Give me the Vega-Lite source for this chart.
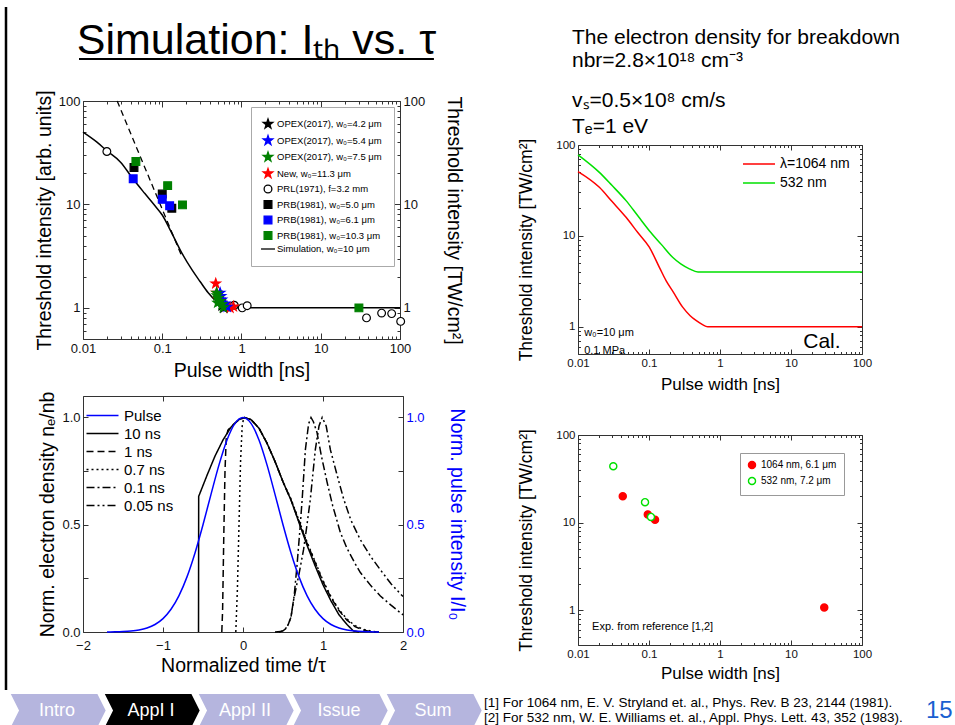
{
  "$schema": "https://vega.github.io/schema/vega-lite/v6.json",
  "padding": {"left": 4, "top": 5, "right": 0, "bottom": 0},
  "background": "white",
  "spacing": 2,
  "resolve": {"scale": {"color": "independent", "fill": "independent", "stroke": "independent", "shape": "independent", "strokeDash": "independent"}, "legend": {"color": "independent", "fill": "independent", "stroke": "independent", "shape": "independent", "strokeDash": "independent"}},
  "config": {
    "font": "Liberation Sans",
    "view": {"stroke": "#333", "strokeWidth": 1},
    "axis": {"grid": false, "domain": false, "tickColor": "#333", "tickWidth": 1, "labelColor": "#111", "titleColor": "#000", "titleFontWeight": "normal", "labelFont": "Liberation Sans", "titleFont": "Liberation Sans", "labelOverlap": false},
    "legend": {"labelFont": "Liberation Sans", "labelColor": "#000"},
    "title": {"fontWeight": "normal", "color": "#000"}
  },
  "vconcat": [
    {
      "spacing": 0,
      "resolve": {"scale": {"color": "independent", "fill": "independent", "stroke": "independent", "shape": "independent", "strokeDash": "independent"}, "legend": {"color": "independent", "fill": "independent", "stroke": "independent", "shape": "independent", "strokeDash": "independent"}},
      "hconcat": [
        {
          "width": 27, "height": 683, "view": {"stroke": null},
          "data": {"values": [{}]},
          "mark": {"type": "rule", "color": "#000", "strokeWidth": 2.5},
          "encoding": {"x": {"datum": 0, "type": "quantitative", "scale": {"domain": [0, 1]}, "axis": null}}
        },
        {
          "spacing": 50,
          "resolve": {"scale": {"color": "independent", "fill": "independent", "stroke": "independent", "shape": "independent", "strokeDash": "independent"}, "legend": {"color": "independent", "fill": "independent", "stroke": "independent", "shape": "independent", "strokeDash": "independent"}},
          "hconcat": [
            {
              "spacing": 22,
              "resolve": {"scale": {"color": "independent", "fill": "independent", "stroke": "independent", "shape": "independent", "strokeDash": "independent"}, "legend": {"color": "independent", "fill": "independent", "stroke": "independent", "shape": "independent", "strokeDash": "independent"}},
              "vconcat": [
                {
                  "width": 317, "height": 60,
                  "view": {"stroke": null},
                  "data": {"values": [{}]},
                  "layer": [
                    {
                      "mark": {"type": "text", "align": "center", "baseline": "alphabetic", "fontSize": 43, "dx": 15, "color": "#000"},
                      "encoding": {
                        "x": {"datum": 0.5, "type": "quantitative", "scale": {"domain": [0, 1]}, "axis": null},
                        "y": {"datum": 0.217, "type": "quantitative", "scale": {"domain": [0, 1]}, "axis": null},
                        "text": {"value": "Simulation: Iₜₕ vs. τ"}
                      }
                    },
                    {
                      "mark": {"type": "rule", "color": "#000", "strokeWidth": 2},
                      "encoding": {
                        "x": {"datum": -0.0126, "type": "quantitative", "scale": {"domain": [0, 1]}, "axis": null},
                        "x2": {"datum": 1.107},
                        "y": {"datum": 0.133, "type": "quantitative", "scale": {"domain": [0, 1]}, "axis": null}
                      }
                    }
                  ]
                },
                {
                  "spacing": 10,
                  "resolve": {"scale": {"color": "independent", "fill": "independent", "stroke": "independent", "shape": "independent", "strokeDash": "independent"}, "legend": {"color": "independent", "fill": "independent", "stroke": "independent", "shape": "independent", "strokeDash": "independent"}},
                  "vconcat": [
                    {
                      "width": 317, "height": 238,
                      "layer": [
                        {
                          "data": {"values": [
                            {"tau": 0.01, "I": 50}, {"tau": 0.015, "I": 40}, {"tau": 0.02, "I": 33}, {"tau": 0.03, "I": 25.5},
                            {"tau": 0.042, "I": 18}, {"tau": 0.06, "I": 12.8}, {"tau": 0.08, "I": 9.8}, {"tau": 0.1, "I": 7.9},
                            {"tau": 0.13, "I": 5.4}, {"tau": 0.18, "I": 3.3}, {"tau": 0.24, "I": 2.3}, {"tau": 0.3, "I": 1.8},
                            {"tau": 0.38, "I": 1.4}, {"tau": 0.48, "I": 1.16}, {"tau": 0.58, "I": 1.05}, {"tau": 0.68, "I": 1.0},
                            {"tau": 1, "I": 1.0}, {"tau": 100, "I": 1.0}
                          ]},
                          "mark": {"type": "line", "color": "#000", "strokeWidth": 1.5, "interpolate": "monotone"},
                          "encoding": {
                            "x": {"field": "tau", "type": "quantitative", "scale": {"type": "log", "domain": [0.01, 100], "nice": false},
                              "axis": {"title": "Pulse width [ns]", "values": [0.01,0.02,0.03,0.04,0.05,0.06,0.07,0.08,0.09,0.1,0.2,0.3,0.4,0.5,0.6,0.7,0.8,0.9,1,2,3,4,5,6,7,8,9,10,20,30,40,50,60,70,80,90,100],
                                "labelExpr": "indexof([0.01,0.1,1,10,100], datum.value) >= 0 ? format(datum.value, '~g') : ''",
                                "tickSize": {"condition": {"test": "indexof([0.01,0.1,1,10,100], datum.value) >= 0", "value": -6}, "value": -3},
                                "labelPadding": 9, "labelFontSize": 13, "titleFontSize": 19.5, "titlePadding": 3, "labelFlush": false}},
                            "y": {"field": "I", "type": "quantitative", "scale": {"type": "log", "domain": [0.5, 100], "nice": false},
                              "axis": {"title": "Threshold intensity [arb. units]", "values": [0.5,0.6,0.7,0.8,0.9,1,2,3,4,5,6,7,8,9,10,20,30,40,50,60,70,80,90,100],
                                "labelExpr": "indexof([0.01,0.1,1,10,100], datum.value) >= 0 ? format(datum.value, '~g') : ''",
                                "tickSize": {"condition": {"test": "indexof([0.01,0.1,1,10,100], datum.value) >= 0", "value": -6}, "value": -3},
                                "labelPadding": 9, "labelFontSize": 13, "titleFontSize": 19.5, "titlePadding": 4}}
                          }
                        },
                        {
                          "data": {"values": [{"tau": 0.027, "I": 100}, {"tau": 0.175, "I": 3.2}]},
                          "mark": {"type": "line", "color": "#000", "strokeWidth": 1.3, "strokeDash": [6, 4]},
                          "encoding": {
                            "x": {"field": "tau", "type": "quantitative", "scale": {"type": "log", "domain": [0.01, 100], "nice": false},
                              "axis": {"orient": "top", "title": null, "labels": false, "values": [0.01,0.02,0.03,0.04,0.05,0.06,0.07,0.08,0.09,0.1,0.2,0.3,0.4,0.5,0.6,0.7,0.8,0.9,1,2,3,4,5,6,7,8,9,10,20,30,40,50,60,70,80,90,100],
                                "tickSize": {"condition": {"test": "indexof([0.01,0.1,1,10,100], datum.value) >= 0", "value": -6}, "value": -3}}},
                            "y": {"field": "I", "type": "quantitative", "scale": {"type": "log", "domain": [0.5, 100], "nice": false},
                              "axis": {"orient": "right", "title": "Threshold intensity [TW/cm²]", "titleAngle": 90, "values": [0.5,0.6,0.7,0.8,0.9,1,2,3,4,5,6,7,8,9,10,20,30,40,50,60,70,80,90,100],
                                "labelExpr": "indexof([0.01,0.1,1,10,100], datum.value) >= 0 ? format(datum.value, '~g') : ''",
                                "tickSize": {"condition": {"test": "indexof([0.01,0.1,1,10,100], datum.value) >= 0", "value": -6}, "value": -3},
                                "labelPadding": 9, "labelFontSize": 13, "titleFontSize": 19.5, "titlePadding": 19}}
                          }
                        },
                        {
                          "data": {"values": [
                            {"s": "PRL(1971), f=3.2 mm", "tau": 0.02, "I": 32.5},
                            {"s": "PRL(1971), f=3.2 mm", "tau": 0.81, "I": 1.06},
                            {"s": "PRL(1971), f=3.2 mm", "tau": 1.02, "I": 1.0},
                            {"s": "PRL(1971), f=3.2 mm", "tau": 1.18, "I": 1.05},
                            {"s": "PRL(1971), f=3.2 mm", "tau": 37.8, "I": 0.8},
                            {"s": "PRL(1971), f=3.2 mm", "tau": 58.6, "I": 0.89},
                            {"s": "PRL(1971), f=3.2 mm", "tau": 78.5, "I": 0.88},
                            {"s": "PRL(1971), f=3.2 mm", "tau": 102, "I": 0.74},
                            {"s": "PRB(1981), w₀=5.0 μm", "tau": 0.044, "I": 22.8},
                            {"s": "PRB(1981), w₀=5.0 μm", "tau": 0.1, "I": 12.6},
                            {"s": "PRB(1981), w₀=5.0 μm", "tau": 0.132, "I": 9.2},
                            {"s": "PRB(1981), w₀=6.1 μm", "tau": 0.043, "I": 17.7},
                            {"s": "PRB(1981), w₀=6.1 μm", "tau": 0.1, "I": 11.2},
                            {"s": "PRB(1981), w₀=6.1 μm", "tau": 0.124, "I": 9.7},
                            {"s": "PRB(1981), w₀=10.3 μm", "tau": 0.0465, "I": 26},
                            {"s": "PRB(1981), w₀=10.3 μm", "tau": 0.117, "I": 15.2},
                            {"s": "PRB(1981), w₀=10.3 μm", "tau": 0.18, "I": 9.9},
                            {"s": "PRB(1981), w₀=10.3 μm", "tau": 30.3, "I": 1.0},
                            {"s": "OPEX(2017), w₀=4.2 μm", "tau": 0.6, "I": 1.0},
                            {"s": "OPEX(2017), w₀=4.2 μm", "tau": 0.57, "I": 1.05},
                            {"s": "New, w₀=11.3 μm", "tau": 0.473, "I": 1.72},
                            {"s": "New, w₀=11.3 μm", "tau": 0.486, "I": 1.4},
                            {"s": "New, w₀=11.3 μm", "tau": 0.52, "I": 1.2},
                            {"s": "New, w₀=11.3 μm", "tau": 0.622, "I": 1.08},
                            {"s": "New, w₀=11.3 μm", "tau": 0.717, "I": 1.0},
                            {"s": "New, w₀=11.3 μm", "tau": 0.79, "I": 1.03},
                            {"s": "OPEX(2017), w₀=5.4 μm", "tau": 0.537, "I": 1.4},
                            {"s": "OPEX(2017), w₀=5.4 μm", "tau": 0.55, "I": 1.3},
                            {"s": "OPEX(2017), w₀=5.4 μm", "tau": 0.565, "I": 1.2},
                            {"s": "OPEX(2017), w₀=5.4 μm", "tau": 0.622, "I": 1.1},
                            {"s": "OPEX(2017), w₀=5.4 μm", "tau": 0.66, "I": 1.02},
                            {"s": "OPEX(2017), w₀=7.5 μm", "tau": 0.486, "I": 1.4},
                            {"s": "OPEX(2017), w₀=7.5 μm", "tau": 0.49, "I": 1.32},
                            {"s": "OPEX(2017), w₀=7.5 μm", "tau": 0.51, "I": 1.25},
                            {"s": "OPEX(2017), w₀=7.5 μm", "tau": 0.5, "I": 1.12},
                            {"s": "OPEX(2017), w₀=7.5 μm", "tau": 0.537, "I": 1.16},
                            {"s": "OPEX(2017), w₀=7.5 μm", "tau": 0.565, "I": 1.08},
                            {"s": "OPEX(2017), w₀=7.5 μm", "tau": 0.59, "I": 1.01}
                          ]},
                          "mark": {"type": "point", "size": 60, "strokeWidth": 1.2, "opacity": 1},
                          "encoding": {
                            "x": {"field": "tau", "type": "quantitative", "scale": {"type": "log", "domain": [0.01, 100], "nice": false}, "axis": null},
                            "y": {"field": "I", "type": "quantitative", "scale": {"type": "log", "domain": [0.5, 100], "nice": false}, "axis": null},
                            "shape": {"field": "s", "type": "nominal",
                              "scale": {"domain": ["OPEX(2017), w₀=4.2 μm", "OPEX(2017), w₀=5.4 μm", "OPEX(2017), w₀=7.5 μm", "New, w₀=11.3 μm", "PRL(1971), f=3.2 mm", "PRB(1981), w₀=5.0 μm", "PRB(1981), w₀=6.1 μm", "PRB(1981), w₀=10.3 μm", "Simulation, w₀=10 μm"],
                                "range": ["M0,-1.3L0.306,-0.421L1.236,-0.402L0.494,0.161L0.764,1.052L0,0.52L-0.764,1.052L-0.494,0.161L-1.236,-0.402L-0.306,-0.421Z", "M0,-1.3L0.306,-0.421L1.236,-0.402L0.494,0.161L0.764,1.052L0,0.52L-0.764,1.052L-0.494,0.161L-1.236,-0.402L-0.306,-0.421Z", "M0,-1.3L0.306,-0.421L1.236,-0.402L0.494,0.161L0.764,1.052L0,0.52L-0.764,1.052L-0.494,0.161L-1.236,-0.402L-0.306,-0.421Z", "M0,-1.3L0.306,-0.421L1.236,-0.402L0.494,0.161L0.764,1.052L0,0.52L-0.764,1.052L-0.494,0.161L-1.236,-0.402L-0.306,-0.421Z", "circle", "square", "square", "square", "M-1.8,0H1.8"]},
                              "legend": {"title": null, "orient": "top-right", "offset": 6, "padding": 12, "strokeColor": "#aaa", "fillColor": "#fff", "labelFontSize": 9.5, "symbolStrokeWidth": 1.3, "rowPadding": 1.5, "symbolSize": 60, "labelLimit": 200}},
                            "fill": {"field": "s", "type": "nominal",
                              "scale": {"domain": ["OPEX(2017), w₀=4.2 μm", "OPEX(2017), w₀=5.4 μm", "OPEX(2017), w₀=7.5 μm", "New, w₀=11.3 μm", "PRL(1971), f=3.2 mm", "PRB(1981), w₀=5.0 μm", "PRB(1981), w₀=6.1 μm", "PRB(1981), w₀=10.3 μm", "Simulation, w₀=10 μm"],
                                "range": ["#000000", "#0000ff", "#008000", "#ff0000", "#ffffff", "#000000", "#0000ff", "#008000", "transparent"]},
                              "legend": {"title": null, "orient": "top-right", "offset": 6, "padding": 12, "strokeColor": "#aaa", "fillColor": "#fff", "labelFontSize": 9.5, "symbolStrokeWidth": 1.3, "rowPadding": 1.5, "symbolSize": 60, "labelLimit": 200}},
                            "stroke": {"field": "s", "type": "nominal",
                              "scale": {"domain": ["OPEX(2017), w₀=4.2 μm", "OPEX(2017), w₀=5.4 μm", "OPEX(2017), w₀=7.5 μm", "New, w₀=11.3 μm", "PRL(1971), f=3.2 mm", "PRB(1981), w₀=5.0 μm", "PRB(1981), w₀=6.1 μm", "PRB(1981), w₀=10.3 μm", "Simulation, w₀=10 μm"],
                                "range": ["#000000", "#0000ff", "#008000", "#ff0000", "#000000", "#000000", "#0000ff", "#008000", "#000000"]},
                              "legend": {"title": null, "orient": "top-right", "offset": 6, "padding": 12, "strokeColor": "#aaa", "fillColor": "#fff", "labelFontSize": 9.5, "symbolStrokeWidth": 1.3, "rowPadding": 1.5, "symbolSize": 60, "labelLimit": 200}}
                          }
                        }
                      ],
                      "resolve": {"scale": {"x": "independent", "y": "independent"}}
                    },
                    {
                      "width": 320, "height": 236,
                      "layer": [
                        {
                          "data": {"values": [
                            {"c": "10 ns", "t": -0.556, "v": 0}, {"c": "10 ns", "t": -0.554, "v": 0.632}, {"c": "10 ns", "t": -0.45, "v": 0.73},
                            {"c": "10 ns", "t": -0.35, "v": 0.82}, {"c": "10 ns", "t": -0.25, "v": 0.895}, {"c": "10 ns", "t": -0.15, "v": 0.955},
                            {"c": "10 ns", "t": -0.05, "v": 0.99}, {"c": "10 ns", "t": 0.02, "v": 1.0}, {"c": "10 ns", "t": 0.1, "v": 0.99},
                            {"c": "10 ns", "t": 0.2, "v": 0.95}, {"c": "10 ns", "t": 0.3, "v": 0.88}, {"c": "10 ns", "t": 0.4, "v": 0.795},
                            {"c": "10 ns", "t": 0.5, "v": 0.7}, {"c": "10 ns", "t": 0.6, "v": 0.615}, {"c": "10 ns", "t": 0.7, "v": 0.51},
                            {"c": "10 ns", "t": 0.8, "v": 0.405}, {"c": "10 ns", "t": 0.9, "v": 0.31}, {"c": "10 ns", "t": 1.0, "v": 0.22},
                            {"c": "10 ns", "t": 1.1, "v": 0.145}, {"c": "10 ns", "t": 1.2, "v": 0.08}, {"c": "10 ns", "t": 1.3, "v": 0.035},
                            {"c": "10 ns", "t": 1.38, "v": 0.005}, {"c": "10 ns", "t": 1.45, "v": 0},
                            {"c": "1 ns", "t": -0.265, "v": 0}, {"c": "1 ns", "t": -0.255, "v": 0.1}, {"c": "1 ns", "t": -0.24, "v": 0.45},
                            {"c": "1 ns", "t": -0.225, "v": 0.75}, {"c": "1 ns", "t": -0.21, "v": 0.9}, {"c": "1 ns", "t": -0.19, "v": 0.94},
                            {"c": "1 ns", "t": -0.15, "v": 0.958}, {"c": "1 ns", "t": -0.05, "v": 0.99}, {"c": "1 ns", "t": 0.02, "v": 1.0},
                            {"c": "1 ns", "t": 0.1, "v": 0.99}, {"c": "1 ns", "t": 0.2, "v": 0.95}, {"c": "1 ns", "t": 0.3, "v": 0.88},
                            {"c": "1 ns", "t": 0.4, "v": 0.795}, {"c": "1 ns", "t": 0.5, "v": 0.7}, {"c": "1 ns", "t": 0.6, "v": 0.615},
                            {"c": "1 ns", "t": 0.7, "v": 0.515}, {"c": "1 ns", "t": 0.8, "v": 0.415}, {"c": "1 ns", "t": 0.9, "v": 0.325},
                            {"c": "1 ns", "t": 1.0, "v": 0.235}, {"c": "1 ns", "t": 1.1, "v": 0.16}, {"c": "1 ns", "t": 1.2, "v": 0.1},
                            {"c": "1 ns", "t": 1.3, "v": 0.055}, {"c": "1 ns", "t": 1.4, "v": 0.025}, {"c": "1 ns", "t": 1.5, "v": 0.01},
                            {"c": "1 ns", "t": 1.6, "v": 0.002}, {"c": "1 ns", "t": 1.7, "v": 0},
                            {"c": "0.7 ns", "t": -0.09, "v": 0}, {"c": "0.7 ns", "t": -0.07, "v": 0.2}, {"c": "0.7 ns", "t": -0.05, "v": 0.5},
                            {"c": "0.7 ns", "t": -0.03, "v": 0.8}, {"c": "0.7 ns", "t": -0.01, "v": 0.96}, {"c": "0.7 ns", "t": 0.01, "v": 1.0},
                            {"c": "0.7 ns", "t": 0.1, "v": 0.99}, {"c": "0.7 ns", "t": 0.2, "v": 0.95}, {"c": "0.7 ns", "t": 0.3, "v": 0.88},
                            {"c": "0.7 ns", "t": 0.4, "v": 0.795}, {"c": "0.7 ns", "t": 0.5, "v": 0.7}, {"c": "0.7 ns", "t": 0.6, "v": 0.62},
                            {"c": "0.7 ns", "t": 0.7, "v": 0.52}, {"c": "0.7 ns", "t": 0.8, "v": 0.42}, {"c": "0.7 ns", "t": 0.9, "v": 0.33},
                            {"c": "0.7 ns", "t": 1.0, "v": 0.24}, {"c": "0.7 ns", "t": 1.1, "v": 0.165}, {"c": "0.7 ns", "t": 1.2, "v": 0.105},
                            {"c": "0.7 ns", "t": 1.3, "v": 0.06}, {"c": "0.7 ns", "t": 1.4, "v": 0.03}, {"c": "0.7 ns", "t": 1.5, "v": 0.013},
                            {"c": "0.7 ns", "t": 1.6, "v": 0.004}, {"c": "0.7 ns", "t": 1.7, "v": 0},
                            {"c": "0.1 ns", "t": 0.4, "v": 0}, {"c": "0.1 ns", "t": 0.47, "v": 0.002}, {"c": "0.1 ns", "t": 0.52, "v": 0.01},
                            {"c": "0.1 ns", "t": 0.56, "v": 0.03}, {"c": "0.1 ns", "t": 0.6, "v": 0.07}, {"c": "0.1 ns", "t": 0.64, "v": 0.17},
                            {"c": "0.1 ns", "t": 0.675, "v": 0.31}, {"c": "0.1 ns", "t": 0.71, "v": 0.47}, {"c": "0.1 ns", "t": 0.74, "v": 0.62},
                            {"c": "0.1 ns", "t": 0.78, "v": 0.85}, {"c": "0.1 ns", "t": 0.82, "v": 0.97}, {"c": "0.1 ns", "t": 0.85, "v": 1.0},
                            {"c": "0.1 ns", "t": 0.88, "v": 0.98}, {"c": "0.1 ns", "t": 0.925, "v": 0.93}, {"c": "0.1 ns", "t": 0.98, "v": 0.82},
                            {"c": "0.1 ns", "t": 1.05, "v": 0.7}, {"c": "0.1 ns", "t": 1.12, "v": 0.59}, {"c": "0.1 ns", "t": 1.217, "v": 0.464},
                            {"c": "0.1 ns", "t": 1.3, "v": 0.39}, {"c": "0.1 ns", "t": 1.4, "v": 0.32}, {"c": "0.1 ns", "t": 1.467, "v": 0.277},
                            {"c": "0.1 ns", "t": 1.6, "v": 0.215}, {"c": "0.1 ns", "t": 1.717, "v": 0.168}, {"c": "0.1 ns", "t": 1.85, "v": 0.125},
                            {"c": "0.1 ns", "t": 2.0, "v": 0.08},
                            {"c": "0.05 ns", "t": 0.45, "v": 0}, {"c": "0.05 ns", "t": 0.5, "v": 0.005}, {"c": "0.05 ns", "t": 0.55, "v": 0.02},
                            {"c": "0.05 ns", "t": 0.6, "v": 0.07}, {"c": "0.05 ns", "t": 0.633, "v": 0.15}, {"c": "0.05 ns", "t": 0.7, "v": 0.27},
                            {"c": "0.05 ns", "t": 0.758, "v": 0.386}, {"c": "0.05 ns", "t": 0.8, "v": 0.5}, {"c": "0.05 ns", "t": 0.842, "v": 0.62},
                            {"c": "0.05 ns", "t": 0.904, "v": 0.85}, {"c": "0.05 ns", "t": 0.95, "v": 0.96}, {"c": "0.05 ns", "t": 0.99, "v": 1.0},
                            {"c": "0.05 ns", "t": 1.04, "v": 0.96}, {"c": "0.05 ns", "t": 1.092, "v": 0.85}, {"c": "0.05 ns", "t": 1.17, "v": 0.74},
                            {"c": "0.05 ns", "t": 1.258, "v": 0.62}, {"c": "0.05 ns", "t": 1.35, "v": 0.52}, {"c": "0.05 ns", "t": 1.467, "v": 0.43},
                            {"c": "0.05 ns", "t": 1.6, "v": 0.35}, {"c": "0.05 ns", "t": 1.717, "v": 0.29}, {"c": "0.05 ns", "t": 1.85, "v": 0.225},
                            {"c": "0.05 ns", "t": 2.0, "v": 0.165}
                          ]},
                          "mark": {"type": "line", "strokeWidth": 1.5},
                          "encoding": {
                            "x": {"field": "t", "type": "quantitative", "scale": {"domain": [-2, 2], "nice": false, "zero": false},
                              "axis": {"title": "Normalized time t/τ", "values": [-2, -1, 0, 1, 2], "format": "d", "tickSize": -5, "labelPadding": 12, "labelFontSize": 13, "titleFontSize": 19.5, "titlePadding": 4, "labelFlush": false}},
                            "y": {"field": "v", "type": "quantitative", "scale": {"domain": [0, 1.1], "nice": false},
                              "axis": {"title": "Norm. electron density nₑ/nb", "values": [0, 0.25, 0.5, 0.75, 1], "labelExpr": "indexof([0,0.5,1], datum.value) >= 0 ? format(datum.value, '.1f') : ''", "tickSize": -5, "labelPadding": 8, "labelFontSize": 13, "titleFontSize": 19.5, "titlePadding": 4}},
                            "color": {"field": "c", "type": "nominal",
                              "scale": {"domain": ["Pulse", "10 ns", "1 ns", "0.7 ns", "0.1 ns", "0.05 ns"], "range": ["#0000ff", "#000000", "#000000", "#000000", "#000000", "#000000"]},
                              "legend": {"title": null, "orient": "top-left", "offset": 12, "labelFontSize": 15, "symbolType": "M-3.2,0H3.2", "symbolSize": 100, "symbolStrokeWidth": 1.5, "rowPadding": 2, "labelOffset": 14, "padding": 0}},
                            "strokeDash": {"field": "c", "type": "nominal",
                              "scale": {"domain": ["Pulse", "10 ns", "1 ns", "0.7 ns", "0.1 ns", "0.05 ns"], "range": [[1, 0], [1, 0], [7, 4], [2, 3], [8, 3, 2, 3], [8, 3, 2, 3, 2, 3]]},
                              "legend": {"title": null, "orient": "top-left", "offset": 12, "labelFontSize": 15, "symbolType": "M-3.2,0H3.2", "symbolSize": 100, "symbolStrokeWidth": 1.5, "rowPadding": 2, "labelOffset": 14, "padding": 0}}
                          }
                        },
                        {
                          "data": {"values": [
                            {"c": "Pulse", "t": -1.7, "v": 0.0003}, {"c": "Pulse", "t": -1.6, "v": 0.0008}, {"c": "Pulse", "t": -1.5, "v": 0.002},
                            {"c": "Pulse", "t": -1.4, "v": 0.0044}, {"c": "Pulse", "t": -1.3, "v": 0.0092}, {"c": "Pulse", "t": -1.2, "v": 0.0185},
                            {"c": "Pulse", "t": -1.1, "v": 0.0349}, {"c": "Pulse", "t": -1.0, "v": 0.0625}, {"c": "Pulse", "t": -0.9, "v": 0.1058},
                            {"c": "Pulse", "t": -0.8, "v": 0.1696}, {"c": "Pulse", "t": -0.7, "v": 0.257}, {"c": "Pulse", "t": -0.6, "v": 0.3685},
                            {"c": "Pulse", "t": -0.5, "v": 0.5}, {"c": "Pulse", "t": -0.4, "v": 0.6417}, {"c": "Pulse", "t": -0.3, "v": 0.779},
                            {"c": "Pulse", "t": -0.2, "v": 0.895}, {"c": "Pulse", "t": -0.1, "v": 0.9727}, {"c": "Pulse", "t": 0, "v": 1.0},
                            {"c": "Pulse", "t": 0.1, "v": 0.9727}, {"c": "Pulse", "t": 0.2, "v": 0.895}, {"c": "Pulse", "t": 0.3, "v": 0.779},
                            {"c": "Pulse", "t": 0.4, "v": 0.6417}, {"c": "Pulse", "t": 0.5, "v": 0.5}, {"c": "Pulse", "t": 0.6, "v": 0.3685},
                            {"c": "Pulse", "t": 0.7, "v": 0.257}, {"c": "Pulse", "t": 0.8, "v": 0.1696}, {"c": "Pulse", "t": 0.9, "v": 0.1058},
                            {"c": "Pulse", "t": 1.0, "v": 0.0625}, {"c": "Pulse", "t": 1.1, "v": 0.0349}, {"c": "Pulse", "t": 1.2, "v": 0.0185},
                            {"c": "Pulse", "t": 1.3, "v": 0.0092}, {"c": "Pulse", "t": 1.4, "v": 0.0044}, {"c": "Pulse", "t": 1.5, "v": 0.002},
                            {"c": "Pulse", "t": 1.6, "v": 0.0008}, {"c": "Pulse", "t": 1.7, "v": 0.0003}
                          ]},
                          "mark": {"type": "line", "strokeWidth": 1.5, "interpolate": "monotone"},
                          "encoding": {
                            "x": {"field": "t", "type": "quantitative", "scale": {"domain": [-2, 2], "nice": false, "zero": false},
                              "axis": {"orient": "top", "title": null, "labels": false, "values": [-2, -1, 0, 1, 2], "tickSize": -5}},
                            "y": {"field": "v", "type": "quantitative", "scale": {"domain": [0, 1.1], "nice": false},
                              "axis": {"orient": "right", "title": "Norm. pulse intensity I/I₀", "titleAngle": 90, "titleColor": "#0000ff", "labelColor": "#0000ff", "values": [0, 0.25, 0.5, 0.75, 1], "labelExpr": "indexof([0,0.5,1], datum.value) >= 0 ? format(datum.value, '.1f') : ''", "tickSize": -5, "labelPadding": 8, "labelFontSize": 13, "titleFontSize": 19.5, "titlePadding": 22}},
                            "color": {"field": "c", "type": "nominal",
                              "scale": {"domain": ["Pulse", "10 ns", "1 ns", "0.7 ns", "0.1 ns", "0.05 ns"], "range": ["#0000ff", "#000000", "#000000", "#000000", "#000000", "#000000"]},
                              "legend": {"title": null, "orient": "top-left", "offset": 12, "labelFontSize": 15, "symbolType": "M-3.2,0H3.2", "symbolSize": 100, "symbolStrokeWidth": 1.5, "rowPadding": 2, "labelOffset": 14, "padding": 0}}
                          }
                        }
                      ],
                      "resolve": {"scale": {"x": "independent", "y": "independent"}}
                    }
                  ]
                }
              ]
            },
            {
              "spacing": 0,
              "resolve": {"scale": {"color": "independent", "fill": "independent", "stroke": "independent", "shape": "independent", "strokeDash": "independent"}, "legend": {"color": "independent", "fill": "independent", "stroke": "independent", "shape": "independent", "strokeDash": "independent"}},
              "vconcat": [
                {
                  "width": 284, "height": 128,
                  "view": {"stroke": null},
                  "data": {"values": [{}]},
                  "layer": [
                    {
                      "mark": {"type": "text", "align": "left", "baseline": "alphabetic", "fontSize": 21, "dx": -6, "color": "#000"},
                      "encoding": {
                        "x": {"datum": 0, "type": "quantitative", "scale": {"domain": [0, 1]}, "axis": null},
                        "y": {"datum": 0.711, "type": "quantitative", "scale": {"domain": [0, 1]}, "axis": null},
                        "text": {"value": "The electron density for breakdown"}
                      }
                    },
                    {
                      "mark": {"type": "text", "align": "left", "baseline": "alphabetic", "fontSize": 21, "dx": -6, "color": "#000"},
                      "encoding": {
                        "x": {"datum": 0, "type": "quantitative", "scale": {"domain": [0, 1]}, "axis": null},
                        "y": {"datum": 0.531, "type": "quantitative", "scale": {"domain": [0, 1]}, "axis": null},
                        "text": {"value": "nbr=2.8×10¹⁸ cm⁻³"}
                      }
                    },
                    {
                      "mark": {"type": "text", "align": "left", "baseline": "alphabetic", "fontSize": 21, "dx": -6, "color": "#000"},
                      "encoding": {
                        "x": {"datum": 0, "type": "quantitative", "scale": {"domain": [0, 1]}, "axis": null},
                        "y": {"datum": 0.219, "type": "quantitative", "scale": {"domain": [0, 1]}, "axis": null},
                        "text": {"value": "vₛ=0.5×10⁸ cm/s"}
                      }
                    },
                    {
                      "mark": {"type": "text", "align": "left", "baseline": "alphabetic", "fontSize": 21, "dx": -6, "color": "#000"},
                      "encoding": {
                        "x": {"datum": 0, "type": "quantitative", "scale": {"domain": [0, 1]}, "axis": null},
                        "y": {"datum": 0.016, "type": "quantitative", "scale": {"domain": [0, 1]}, "axis": null},
                        "text": {"value": "Tₑ=1 eV"}
                      }
                    }
                  ]
                },
                {
                  "spacing": 35,
                  "resolve": {"scale": {"color": "independent", "fill": "independent", "stroke": "independent", "shape": "independent", "strokeDash": "independent"}, "legend": {"color": "independent", "fill": "independent", "stroke": "independent", "shape": "independent", "strokeDash": "independent"}},
                  "vconcat": [
                    {
                      "width": 284, "height": 209,
                      "data": {"values": [
                        {"w": "λ=1064 nm", "tau": 0.01, "I": 51}, {"w": "λ=1064 nm", "tau": 0.02, "I": 34.2}, {"w": "λ=1064 nm", "tau": 0.03, "I": 24},
                        {"w": "λ=1064 nm", "tau": 0.0475, "I": 16}, {"w": "λ=1064 nm", "tau": 0.07, "I": 10.8}, {"w": "λ=1064 nm", "tau": 0.101, "I": 7.5},
                        {"w": "λ=1064 nm", "tau": 0.14, "I": 4.5}, {"w": "λ=1064 nm", "tau": 0.173, "I": 3.23}, {"w": "λ=1064 nm", "tau": 0.22, "I": 2.4},
                        {"w": "λ=1064 nm", "tau": 0.298, "I": 1.64}, {"w": "λ=1064 nm", "tau": 0.38, "I": 1.32}, {"w": "λ=1064 nm", "tau": 0.459, "I": 1.17},
                        {"w": "λ=1064 nm", "tau": 0.56, "I": 1.06}, {"w": "λ=1064 nm", "tau": 0.67, "I": 1.0}, {"w": "λ=1064 nm", "tau": 100, "I": 1.0},
                        {"w": "532 nm", "tau": 0.01, "I": 78}, {"w": "532 nm", "tau": 0.02, "I": 50}, {"w": "532 nm", "tau": 0.03, "I": 36},
                        {"w": "532 nm", "tau": 0.0475, "I": 24.4}, {"w": "532 nm", "tau": 0.07, "I": 16.5}, {"w": "532 nm", "tau": 0.101, "I": 11.4},
                        {"w": "532 nm", "tau": 0.15, "I": 8.0}, {"w": "532 nm", "tau": 0.215, "I": 5.8}, {"w": "532 nm", "tau": 0.28, "I": 4.9},
                        {"w": "532 nm", "tau": 0.37, "I": 4.33}, {"w": "532 nm", "tau": 0.49, "I": 4.0}, {"w": "532 nm", "tau": 100, "I": 4.0}
                      ]},
                      "layer": [
                        {
                          "transform": [{"filter": "datum.w === 'λ=1064 nm'"}],
                          "mark": {"type": "line", "strokeWidth": 1.5, "interpolate": "monotone"},
                          "encoding": {
                            "x": {"field": "tau", "type": "quantitative", "scale": {"type": "log", "domain": [0.01, 100], "nice": false},
                              "axis": {"title": "Pulse width [ns]", "values": [0.01,0.02,0.03,0.04,0.05,0.06,0.07,0.08,0.09,0.1,0.2,0.3,0.4,0.5,0.6,0.7,0.8,0.9,1,2,3,4,5,6,7,8,9,10,20,30,40,50,60,70,80,90,100],
                                "labelExpr": "indexof([0.01,0.1,1,10,100], datum.value) >= 0 ? format(datum.value, '~g') : ''",
                                "tickSize": {"condition": {"test": "indexof([0.01,0.1,1,10,100], datum.value) >= 0", "value": -5}, "value": -2.5},
                                "labelPadding": 8, "labelFontSize": 11.5, "titleFontSize": 17, "titlePadding": 5, "labelFlush": false}},
                            "y": {"field": "I", "type": "quantitative", "scale": {"type": "log", "domain": [0.5, 100], "nice": false},
                              "axis": {"title": "Threshold intensity [TW/cm²]", "values": [0.5,0.6,0.7,0.8,0.9,1,2,3,4,5,6,7,8,9,10,20,30,40,50,60,70,80,90,100],
                                "labelExpr": "indexof([0.01,0.1,1,10,100], datum.value) >= 0 ? format(datum.value, '~g') : ''",
                                "tickSize": {"condition": {"test": "indexof([0.01,0.1,1,10,100], datum.value) >= 0", "value": -5}, "value": -2.5},
                                "labelPadding": 8, "labelFontSize": 11.5, "titleFontSize": 17.5, "titlePadding": 20}},
                            "color": {"field": "w", "type": "nominal", "scale": {"domain": ["λ=1064 nm", "532 nm"], "range": ["#ff0000", "#00e000"]},
                              "legend": {"title": null, "orient": "top-right", "offset": 12, "labelFontSize": 14, "symbolType": "M-3.2,0H3.2", "symbolSize": 100, "symbolStrokeWidth": 1.5, "rowPadding": 5, "labelOffset": 14, "padding": 0}}
                          }
                        },
                        {
                          "transform": [{"filter": "datum.w === '532 nm'"}],
                          "mark": {"type": "line", "strokeWidth": 1.5, "interpolate": "monotone"},
                          "encoding": {
                            "x": {"field": "tau", "type": "quantitative", "scale": {"type": "log", "domain": [0.01, 100], "nice": false},
                              "axis": {"orient": "top", "title": null, "labels": false, "values": [0.01,0.02,0.03,0.04,0.05,0.06,0.07,0.08,0.09,0.1,0.2,0.3,0.4,0.5,0.6,0.7,0.8,0.9,1,2,3,4,5,6,7,8,9,10,20,30,40,50,60,70,80,90,100],
                                "tickSize": {"condition": {"test": "indexof([0.01,0.1,1,10,100], datum.value) >= 0", "value": -5}, "value": -2.5}}},
                            "y": {"field": "I", "type": "quantitative", "scale": {"type": "log", "domain": [0.5, 100], "nice": false},
                              "axis": {"orient": "right", "title": null, "labels": false, "values": [0.5,0.6,0.7,0.8,0.9,1,2,3,4,5,6,7,8,9,10,20,30,40,50,60,70,80,90,100],
                                "tickSize": {"condition": {"test": "indexof([0.01,0.1,1,10,100], datum.value) >= 0", "value": -5}, "value": -2.5}}},
                            "color": {"field": "w", "type": "nominal", "scale": {"domain": ["λ=1064 nm", "532 nm"], "range": ["#ff0000", "#00e000"]},
                              "legend": {"title": null, "orient": "top-right", "offset": 12, "labelFontSize": 14, "symbolType": "M-3.2,0H3.2", "symbolSize": 100, "symbolStrokeWidth": 1.5, "rowPadding": 5, "labelOffset": 14, "padding": 0}}
                          }
                        },
                        {
                          "data": {"values": [{}]},
                          "mark": {"type": "text", "align": "left", "baseline": "middle", "fontSize": 11, "lineHeight": 18.5, "color": "#000"},
                          "encoding": {
                            "x": {"datum": 0.0122, "type": "quantitative", "scale": {"type": "log", "domain": [0.01, 100], "nice": false}, "axis": null},
                            "y": {"datum": 0.857, "type": "quantitative", "scale": {"type": "log", "domain": [0.5, 100], "nice": false}, "axis": null},
                            "text": {"value": ["w₀=10 μm", "0.1 MPa"]}
                          }
                        },
                        {
                          "data": {"values": [{}]},
                          "mark": {"type": "text", "align": "right", "baseline": "middle", "fontSize": 21, "color": "#000"},
                          "encoding": {
                            "x": {"datum": 50, "type": "quantitative", "scale": {"type": "log", "domain": [0.01, 100], "nice": false}, "axis": null},
                            "y": {"datum": 0.68, "type": "quantitative", "scale": {"type": "log", "domain": [0.5, 100], "nice": false}, "axis": null},
                            "text": {"value": "Cal."}
                          }
                        }
                      ],
                      "resolve": {"scale": {"x": "independent", "y": "independent"}}
                    },
                    {
                      "width": 284, "height": 210,
                      "data": {"values": [
                        {"s": "1064 nm, 6.1 μm", "tau": 0.0427, "I": 20}, {"s": "1064 nm, 6.1 μm", "tau": 0.0962, "I": 12.4},
                        {"s": "1064 nm, 6.1 μm", "tau": 0.1216, "I": 10.8}, {"s": "1064 nm, 6.1 μm", "tau": 29.4, "I": 1.07},
                        {"s": "532 nm, 7.2 μm", "tau": 0.0314, "I": 44}, {"s": "532 nm, 7.2 μm", "tau": 0.0879, "I": 17.1},
                        {"s": "532 nm, 7.2 μm", "tau": 0.1066, "I": 11.6}
                      ]},
                      "layer": [
                        {
                          "transform": [{"filter": "datum.s === '1064 nm, 6.1 μm'"}],
                          "mark": {"type": "point", "shape": "circle", "size": 50, "strokeWidth": 1.4, "opacity": 1},
                          "encoding": {
                            "x": {"field": "tau", "type": "quantitative", "scale": {"type": "log", "domain": [0.01, 100], "nice": false},
                              "axis": {"title": "Pulse width [ns]", "values": [0.01,0.02,0.03,0.04,0.05,0.06,0.07,0.08,0.09,0.1,0.2,0.3,0.4,0.5,0.6,0.7,0.8,0.9,1,2,3,4,5,6,7,8,9,10,20,30,40,50,60,70,80,90,100],
                                "labelExpr": "indexof([0.01,0.1,1,10,100], datum.value) >= 0 ? format(datum.value, '~g') : ''",
                                "tickSize": {"condition": {"test": "indexof([0.01,0.1,1,10,100], datum.value) >= 0", "value": -5}, "value": -2.5},
                                "labelPadding": 8, "labelFontSize": 11.5, "titleFontSize": 17, "titlePadding": 3, "labelFlush": false}},
                            "y": {"field": "I", "type": "quantitative", "scale": {"type": "log", "domain": [0.4, 100], "nice": false},
                              "axis": {"title": "Threshold intensity [TW/cm²]", "values": [0.4,0.5,0.6,0.7,0.8,0.9,1,2,3,4,5,6,7,8,9,10,20,30,40,50,60,70,80,90,100],
                                "labelExpr": "indexof([0.01,0.1,1,10,100], datum.value) >= 0 ? format(datum.value, '~g') : ''",
                                "tickSize": {"condition": {"test": "indexof([0.01,0.1,1,10,100], datum.value) >= 0", "value": -5}, "value": -2.5},
                                "labelPadding": 8, "labelFontSize": 11.5, "titleFontSize": 17.5, "titlePadding": 20}},
                            "fill": {"field": "s", "type": "nominal", "scale": {"domain": ["1064 nm, 6.1 μm", "532 nm, 7.2 μm"], "range": ["#ff0000", "#ffffff"]},
                              "legend": {"title": null, "orient": "top-right", "offset": 18, "padding": 7, "strokeColor": "#999", "fillColor": "#fff", "labelFontSize": 10, "symbolSize": 50, "symbolStrokeWidth": 1.4, "rowPadding": 2}},
                            "stroke": {"field": "s", "type": "nominal", "scale": {"domain": ["1064 nm, 6.1 μm", "532 nm, 7.2 μm"], "range": ["#ff0000", "#00e000"]},
                              "legend": {"title": null, "orient": "top-right", "offset": 18, "padding": 7, "strokeColor": "#999", "fillColor": "#fff", "labelFontSize": 10, "symbolSize": 50, "symbolStrokeWidth": 1.4, "rowPadding": 2}}
                          }
                        },
                        {
                          "transform": [{"filter": "datum.s === '532 nm, 7.2 μm'"}],
                          "mark": {"type": "point", "shape": "circle", "size": 50, "strokeWidth": 1.4, "opacity": 1},
                          "encoding": {
                            "x": {"field": "tau", "type": "quantitative", "scale": {"type": "log", "domain": [0.01, 100], "nice": false},
                              "axis": {"orient": "top", "title": null, "labels": false, "values": [0.01,0.02,0.03,0.04,0.05,0.06,0.07,0.08,0.09,0.1,0.2,0.3,0.4,0.5,0.6,0.7,0.8,0.9,1,2,3,4,5,6,7,8,9,10,20,30,40,50,60,70,80,90,100],
                                "tickSize": {"condition": {"test": "indexof([0.01,0.1,1,10,100], datum.value) >= 0", "value": -5}, "value": -2.5}}},
                            "y": {"field": "I", "type": "quantitative", "scale": {"type": "log", "domain": [0.4, 100], "nice": false},
                              "axis": {"orient": "right", "title": null, "labels": false, "values": [0.4,0.5,0.6,0.7,0.8,0.9,1,2,3,4,5,6,7,8,9,10,20,30,40,50,60,70,80,90,100],
                                "tickSize": {"condition": {"test": "indexof([0.01,0.1,1,10,100], datum.value) >= 0", "value": -5}, "value": -2.5}}},
                            "fill": {"field": "s", "type": "nominal", "scale": {"domain": ["1064 nm, 6.1 μm", "532 nm, 7.2 μm"], "range": ["#ff0000", "#ffffff"]},
                              "legend": {"title": null, "orient": "top-right", "offset": 18, "padding": 7, "strokeColor": "#999", "fillColor": "#fff", "labelFontSize": 10, "symbolSize": 50, "symbolStrokeWidth": 1.4, "rowPadding": 2}},
                            "stroke": {"field": "s", "type": "nominal", "scale": {"domain": ["1064 nm, 6.1 μm", "532 nm, 7.2 μm"], "range": ["#ff0000", "#00e000"]},
                              "legend": {"title": null, "orient": "top-right", "offset": 18, "padding": 7, "strokeColor": "#999", "fillColor": "#fff", "labelFontSize": 10, "symbolSize": 50, "symbolStrokeWidth": 1.4, "rowPadding": 2}}
                          }
                        },
                        {
                          "data": {"values": [{}]},
                          "mark": {"type": "text", "align": "left", "baseline": "middle", "fontSize": 11, "color": "#000"},
                          "encoding": {
                            "x": {"datum": 0.0158, "type": "quantitative", "scale": {"type": "log", "domain": [0.01, 100], "nice": false}, "axis": null},
                            "y": {"datum": 0.645, "type": "quantitative", "scale": {"type": "log", "domain": [0.4, 100], "nice": false}, "axis": null},
                            "text": {"value": "Exp. from reference [1,2]"}
                          }
                        }
                      ],
                      "resolve": {"scale": {"x": "independent", "y": "independent"}}
                    }
                  ]
                }
              ]
            }
          ]
        }
      ]
    },
    {
      "spacing": 2,
      "resolve": {"scale": {"color": "independent", "fill": "independent", "stroke": "independent", "shape": "independent", "strokeDash": "independent"}, "legend": {"color": "independent", "fill": "independent", "stroke": "independent", "shape": "independent", "strokeDash": "independent"}},
      "hconcat": [
        {"width": 2, "height": 10, "view": {"stroke": null}, "data": {"values": []}, "mark": "point"},
        {
          "width": 470, "height": 33,
          "view": {"stroke": null},
          "data": {"values": [
            {"tab": "Intro", "on": "n"}, {"tab": "AppI I", "on": "y"}, {"tab": "AppI II", "on": "n"}, {"tab": "Issue", "on": "n"}, {"tab": "Sum", "on": "n"}
          ]},
          "layer": [
            {
              "mark": {"type": "point", "shape": "M-2.8,-1L2.45,-1L2.95,0L2.45,1L-2.8,1L-2.3,0Z", "size": 1089, "opacity": 1, "strokeWidth": 0},
              "encoding": {
                "x": {"field": "tab", "type": "nominal", "sort": null, "axis": null, "scale": {"padding": 0.5}},
                "fill": {"field": "on", "type": "nominal", "scale": {"domain": ["n", "y"], "range": ["#b5b5de", "#000000"]}, "legend": null}
              }
            },
            {
              "mark": {"type": "text", "fontSize": 18, "font": "Liberation Sans", "color": "#ffffff", "baseline": "middle"},
              "encoding": {
                "x": {"field": "tab", "type": "nominal", "sort": null, "axis": null},
                "text": {"field": "tab"}
              }
            }
          ]
        },
        {
          "width": 440, "height": 33,
          "view": {"stroke": null},
          "data": {"values": [
            {"n": 1, "ref": "[1] For 1064 nm, E. V. Stryland et. al., Phys. Rev. B 23, 2144 (1981)."},
            {"n": 2, "ref": "[2] For 532 nm, W. E. Williams et. al., Appl. Phys. Lett. 43, 352 (1983)."}
          ]},
          "mark": {"type": "text", "align": "left", "baseline": "middle", "fontSize": 13.5, "dy": 0, "font": "Liberation Sans", "color": "#000"},
          "encoding": {
            "y": {"field": "n", "type": "ordinal", "axis": null, "scale": {"padding": 0.6}},
            "x": {"datum": 0, "type": "quantitative", "scale": {"domain": [0, 1]}, "axis": null},
            "text": {"field": "ref"}
          }
        },
        {
          "width": 30, "height": 33,
          "view": {"stroke": null},
          "data": {"values": [{"p": "15"}]},
          "mark": {"type": "text", "align": "left", "baseline": "bottom", "fontSize": 24, "color": "#1a5fd0"},
          "encoding": {
            "x": {"datum": 0, "type": "quantitative", "scale": {"domain": [0, 1]}, "axis": null},
            "y": {"datum": 0.12, "type": "quantitative", "scale": {"domain": [0, 1]}, "axis": null},
            "text": {"field": "p"}
          }
        }
      ]
    }
  ]
}
